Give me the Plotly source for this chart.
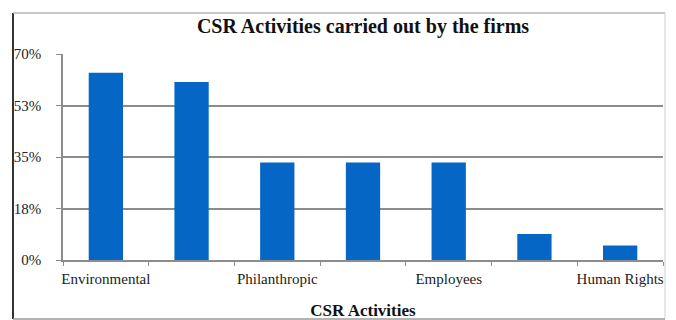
import plotly.graph_objects as go

categories = ["Environmental", "Community", "Philanthropic", "Customers",
              "Employees", "Suppliers", "Human Rights"]
values = [63.6, 60.5, 33.1, 33.1, 33.1, 8.8, 4.9]
shown_labels = ["Environmental", "", "Philanthropic", "", "Employees", "", "Human Rights"]
y_tickvals = [0, 17.5, 35, 52.5, 70]
y_ticktext = ["0%", "18%", "35%", "53%", "70%"]

W, H = 676, 320
L, R, T, B = 63, 13, 54, 60
pw, ph = W - L - R, H - T - B

def px(x):
    return (x - L) / pw

def py(y):
    return (H - B - y) / ph

serif = "Liberation Serif, Times New Roman, serif"
grid = "#8c8c8c"

fig = go.Figure(go.Bar(
    x=categories, y=values,
    marker=dict(color="#0566c6", line=dict(width=0)),
    width=0.4,
))

fig.update_layout(
    width=W, height=H,
    margin=dict(l=L, r=R, t=T, b=B, autoexpand=False),
    paper_bgcolor="white", plot_bgcolor="white",
    showlegend=False,
    title=dict(text="<b>CSR Activities carried out by the firms</b>",
               font=dict(family=serif, size=20, color="#111"),
               x=0.5, xref="paper", y=1 - 26 / H, yanchor="middle", xanchor="center",
               automargin=False),
    font=dict(family=serif, color="#222"),
    xaxis=dict(
        tickmode="array", tickvals=categories, ticktext=shown_labels,
        tickson="boundaries", ticks="outside", ticklen=4, tickcolor=grid,
        tickangle=0, automargin=False, ticklabelstandoff=4,
        showline=True, linecolor=grid, linewidth=1.5,
        showgrid=False,
        tickfont=dict(family=serif, size=15, color="#222"),
        title=dict(text="<b>CSR Activities</b>", standoff=20,
                   font=dict(family=serif, size=17, color="#111")),
    ),
    yaxis=dict(
        range=[0, 70], automargin=False,
        tickmode="array", tickvals=y_tickvals, ticktext=y_ticktext,
        showgrid=True, gridcolor=grid, gridwidth=1.5,
        showline=True, linecolor=grid, linewidth=1.5,
        ticks="outside", ticklen=5, tickcolor=grid,
        zeroline=False,
        tickfont=dict(family=serif, size=15, color="#222"),
        ticklabelstandoff=12,
    ),
    shapes=[
        dict(type="line", xref="paper", yref="paper",
             x0=px(13), x1=px(13), y0=py(13), y1=py(319),
             line=dict(color="#333", width=2)),
        dict(type="line", xref="paper", yref="paper",
             x0=px(13), x1=px(665), y0=py(13), y1=py(13),
             line=dict(color="#b5b5b5", width=1.5)),
        dict(type="line", xref="paper", yref="paper",
             x0=px(665), x1=px(665), y0=py(13), y1=py(319),
             line=dict(color="#cfcfcf", width=1)),
        dict(type="line", xref="paper", yref="paper",
             x0=px(13), x1=px(665), y0=py(319), y1=py(319),
             line=dict(color="#9a9a9a", width=1.5)),
    ],
)

fig.write_html("out.html")
